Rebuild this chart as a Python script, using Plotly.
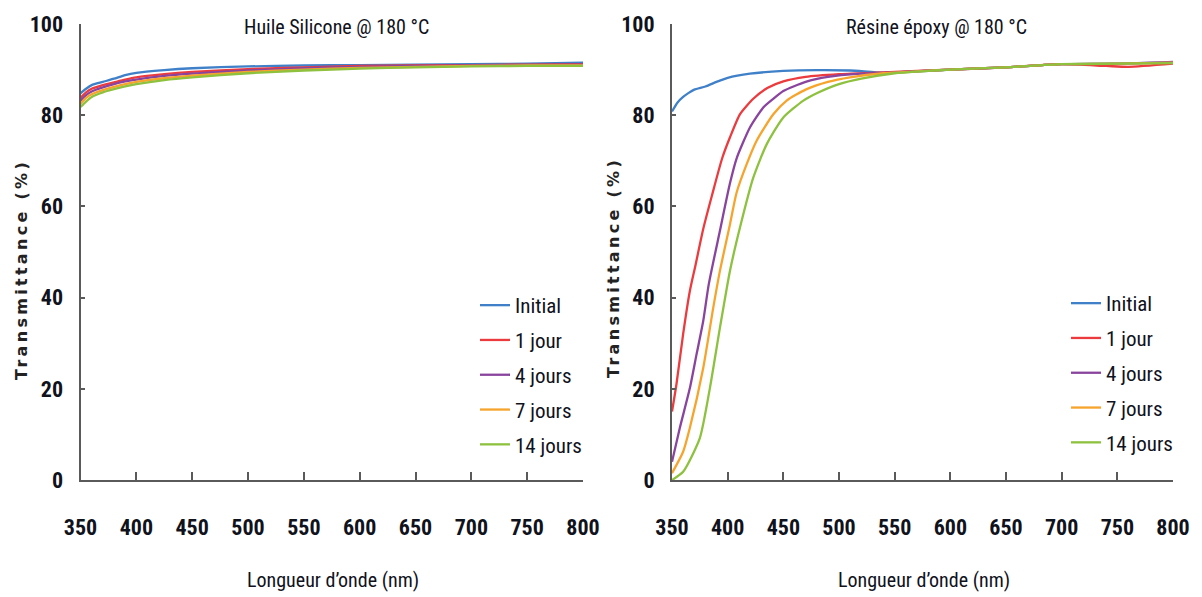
import plotly.graph_objects as go

# ---------------- data ----------------
series_names = ["Initial", "1 jour", "4 jours", "7 jours", "14 jours"]
series_colors = ["#3F80C8", "#EC3B3E", "#8A449E", "#F6A42C", "#8DC13E"]

# Left panel : Huile Silicone @ 180 °C
sil_wl = [350, 355, 360, 370, 380, 390, 400, 425, 450, 500, 550, 600, 650, 700, 750, 800]
sil_initial = [84.8, 85.8, 86.6, 87.3, 88.0, 88.8, 89.3, 89.9, 90.3, 90.7, 90.9, 91.0, 91.1, 91.2, 91.3, 91.5]
sil_1j = [83.8, 85.0, 85.8, 86.6, 87.2, 87.8, 88.3, 89.0, 89.5, 90.1, 90.5, 90.8, 90.9, 91.0, 91.1, 91.2]
sil_4j = [83.2, 84.4, 85.2, 86.1, 86.8, 87.4, 87.8, 88.6, 89.1, 89.8, 90.3, 90.6, 90.8, 90.9, 91.0, 91.1]
sil_7j = [82.5, 83.8, 84.6, 85.5, 86.2, 86.8, 87.3, 88.1, 88.7, 89.5, 90.0, 90.4, 90.6, 90.8, 90.9, 90.9]
sil_14j = [81.8, 83.0, 84.0, 85.0, 85.7, 86.3, 86.8, 87.7, 88.3, 89.2, 89.8, 90.2, 90.5, 90.7, 90.8, 90.8]

# Right panel : Résine époxy @ 180 °C
epo_initial_wl = [350, 355, 360, 365, 370, 380, 390, 400, 420, 450, 480, 510, 540, 570, 600, 650, 700, 750, 800]
epo_initial = [80.8, 82.8, 84.0, 84.9, 85.6, 86.3, 87.3, 88.2, 89.1, 89.7, 89.9, 89.8, 89.3, 89.6, 90.0, 90.5, 91.2, 91.3, 91.6]
epo_1j_wl = [350, 354, 360, 366, 371, 378, 386, 395, 402, 411, 423, 436, 450, 470, 500, 530, 560, 600, 650, 700, 740, 760, 800]
epo_1j = [15.0, 21.0, 32.0, 41.4, 47.0, 55.0, 62.5, 70.5, 75.1, 80.2, 83.6, 86.0, 87.4, 88.4, 89.0, 89.3, 89.6, 90.0, 90.5, 91.2, 90.8, 90.6, 91.3]
epo_4j_wl = [350, 357, 366, 372, 378, 383, 393, 402, 408, 420, 432, 441, 450, 470, 490, 520, 550, 600, 650, 700, 750, 800]
epo_4j = [4.0, 11.4, 20.1, 27.5, 34.8, 42.9, 54.6, 65.0, 70.5, 77.3, 81.7, 83.6, 85.3, 87.3, 88.4, 89.1, 89.4, 90.0, 90.5, 91.2, 91.3, 91.7]
epo_7j_wl = [350, 360, 366, 378, 387, 393, 402, 408, 417, 426, 441, 453, 470, 490, 510, 540, 570, 600, 650, 700, 750, 800]
epo_7j = [1.5, 6.2, 11.4, 24.5, 37.7, 45.8, 56.0, 63.0, 69.2, 74.4, 80.2, 83.2, 85.6, 87.3, 88.3, 89.2, 89.6, 90.0, 90.5, 91.2, 91.3, 91.5]
epo_14j_wl = [350, 360, 375, 384, 393, 402, 411, 423, 435, 450, 468, 480, 500, 520, 550, 580, 600, 650, 700, 750, 800]
epo_14j = [0.0, 1.8, 9.2, 20.1, 33.3, 45.8, 55.3, 66.3, 73.6, 79.5, 83.2, 84.8, 86.8, 88.0, 89.2, 89.7, 90.0, 90.5, 91.2, 91.3, 91.4]

x_ticks = [350, 400, 450, 500, 550, 600, 650, 700, 750, 800]
y_ticks = [0, 20, 40, 60, 80, 100]

panel_titles = ["Huile Silicone @ 180 °C", "Résine époxy @ 180 °C"]
x_title = "Longueur d’onde (nm)"
y_title = "Transmittance (%)"

# ---------------- layout helpers ----------------
W, H = 1202, 597
def px(x):
    return x / W
def py(y):
    return 1 - y / H

COND = "Liberation Sans Narrow, Roboto Condensed, DejaVu Sans Condensed, Arial Narrow, sans-serif"
TXT = "#10121c"
AX = "#5a5a5a"

fig = go.Figure()

left_sets = [(sil_wl, sil_initial), (sil_wl, sil_1j), (sil_wl, sil_4j), (sil_wl, sil_7j), (sil_wl, sil_14j)]
right_sets = [(epo_initial_wl, epo_initial), (epo_1j_wl, epo_1j), (epo_4j_wl, epo_4j),
              (epo_7j_wl, epo_7j), (epo_14j_wl, epo_14j)]

for i, (xs, ys) in enumerate(left_sets):
    fig.add_trace(go.Scatter(x=xs, y=ys, mode="lines", name=series_names[i],
                             line=dict(color=series_colors[i], width=2.3, shape="spline", smoothing=0.6),
                             xaxis="x", yaxis="y", legend="legend", legendgroup=f"L{i}"))
for i, (xs, ys) in enumerate(right_sets):
    fig.add_trace(go.Scatter(x=xs, y=ys, mode="lines", name=series_names[i],
                             line=dict(color=series_colors[i], width=2.3, shape="spline", smoothing=0.6),
                             xaxis="x2", yaxis="y2", legend="legend2", legendgroup=f"R{i}"))

y_dom = [py(480), py(24)]
common_x = dict(range=[350, 800], tickvals=x_ticks, showline=True, linecolor=AX, linewidth=2,
                ticks="inside", ticklen=8, tickwidth=2, tickcolor=AX, showgrid=False, zeroline=False,
                ticklabelstandoff=27,
                tickfont=dict(family=COND, size=22, color=TXT, weight="bold"))
common_y = dict(range=[0, 100], tickvals=y_ticks, showline=True, linecolor=AX, linewidth=2,
                ticks="inside", ticklen=4, tickwidth=2, tickcolor=AX, showgrid=False, zeroline=False,
                ticklabelstandoff=11,
                tickfont=dict(family=COND, size=22, color=TXT, weight="bold"), domain=y_dom)

fig.update_layout(
    width=W, height=H,
    margin=dict(l=0, r=0, t=0, b=0, autoexpand=False),
    paper_bgcolor="white", plot_bgcolor="white",
    xaxis=dict(domain=[px(80.5), px(583)], anchor="y", **common_x),
    yaxis=dict(anchor="x", **common_y),
    xaxis2=dict(domain=[px(672), px(1173)], anchor="y2", **common_x),
    yaxis2=dict(anchor="x2", **common_y),
    legend=dict(x=px(475), y=py(285), xanchor="left", yanchor="top",
                font=dict(family=COND, size=21, color=TXT), bgcolor="rgba(0,0,0,0)",
                tracegroupgap=4.5, itemwidth=30),
    legend2=dict(x=px(1066), y=py(283), xanchor="left", yanchor="top",
                 font=dict(family=COND, size=21, color=TXT), bgcolor="rgba(0,0,0,0)",
                 tracegroupgap=4.5, itemwidth=30),
    showlegend=True,
)

annotations = [
    dict(text=panel_titles[0], x=px(337), y=py(27), xref="paper", yref="paper", showarrow=False,
         xanchor="center", yanchor="middle", font=dict(family=COND, size=20, color=TXT)),
    dict(text=panel_titles[1], x=px(936), y=py(27), xref="paper", yref="paper", showarrow=False,
         xanchor="center", yanchor="middle", font=dict(family=COND, size=20, color=TXT)),
    dict(text=x_title, x=px(333), y=py(580), xref="paper", yref="paper", showarrow=False,
         xanchor="center", yanchor="middle", font=dict(family=COND, size=20, color=TXT)),
    dict(text=x_title, x=px(924), y=py(580), xref="paper", yref="paper", showarrow=False,
         xanchor="center", yanchor="middle", font=dict(family=COND, size=20, color=TXT)),
    dict(text=y_title, x=px(21), y=py(270), xref="paper", yref="paper", showarrow=False, textangle=-90,
         xanchor="center", yanchor="middle",
         font=dict(family="DejaVu Sans, Arial, sans-serif", size=16, color="#222", weight="bold")),
    dict(text=y_title, x=px(613), y=py(268), xref="paper", yref="paper", showarrow=False, textangle=-90,
         xanchor="center", yanchor="middle",
         font=dict(family="DejaVu Sans, Arial, sans-serif", size=16, color="#222", weight="bold")),
]
fig.update_layout(annotations=annotations)

post = """
var gd = document.getElementById('{plot_id}');
function spaceTitles(){
  gd.querySelectorAll('text.annotation-text').forEach(function(t){
    if (t.textContent.indexOf('Transmittance') === 0) { t.style.letterSpacing = '3.3px'; }
  });
}
spaceTitles();
if (gd.on) { gd.on('plotly_afterplot', spaceTitles); }
setTimeout(spaceTitles, 50);
"""

fig.write_html("out.html", post_script=post)
